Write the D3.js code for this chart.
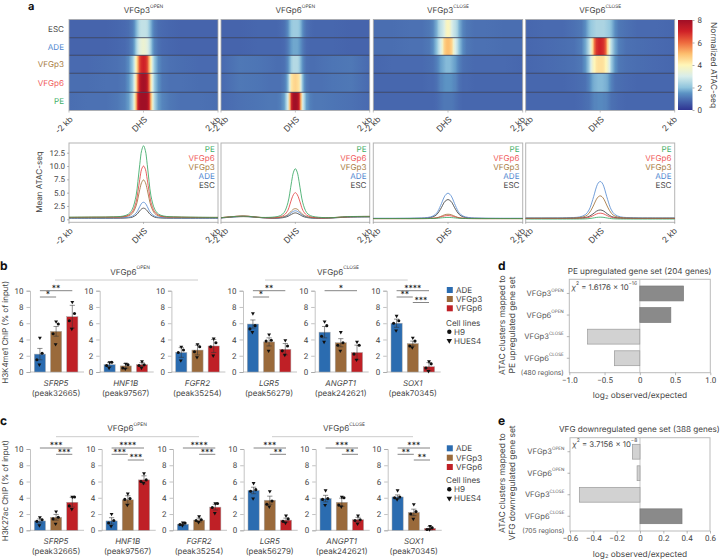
<!DOCTYPE html>
<html><head><meta charset="utf-8">
<script src="https://cdn.jsdelivr.net/npm/d3@7"></script>
<style>
html,body{margin:0;padding:0;background:#fff}
svg{display:block}
text{font-family:Inter,"Noto Sans",sans-serif;fill:#444;text-rendering:geometricPrecision}
.tick text{font-family:Roboto,sans-serif}
</style></head><body><svg id="c" width="721" height="560"></svg>
<script>
// ---------- categories ----------
const samples = ["ESC","ADE","VFGp3","VFGp6","PE"];
const sampleColors = ["#4a4a4a","#4f86cf","#a87c42","#ef5a5a","#3fae68"];
const clusterNames = ["VFGp3","VFGp6","VFGp3","VFGp6"];
const clusterSups = ["OPEN","OPEN","CLOSE","CLOSE"];
const groups = ["ADE","VFGp3","VFGp6"];
const groupColors = ["#2b6cb0","#9a6a3b","#bf2026"];
const genes = ["SFRP5","HNF1B","FGFR2","LGR5","ANGPT1","SOX1"];
const peaks = ["(peak32665)","(peak97567)","(peak35254)","(peak56279)","(peak242621)","(peak70345)"];

// ---------- panel a heat map: ATAC signal by distance from DHS centre (kb) ----------
const heatKb = [0,.05,.1,.15,.2,.25,.3,.4,.5,.7,1,1.5,2];
const heatP1 = [
 [2.7,2.7,2.6,2.2,1.8,1.4,1.15,.95,.9,.85,.8,.8,.8],
 [3.5,3.4,3.2,2.8,2.2,1.6,1.25,1,.9,.85,.8,.8,.8],
 [7,6.9,6.5,5.2,4,2.8,2,1.4,1.1,1,.95,.9,.9],
 [7.9,7.8,7.4,6,4.2,3,2.1,1.5,1.1,1,1,.95,.95],
 [8,8,7.9,7,5,3.4,2.4,1.6,1.3,1.1,1,1,.95]];
const heatP2 = [
 [2.2,2.2,2.1,1.8,1.4,1.15,1,.9,.85,.85,.85,.8,.8],
 [1.7,1.7,1.6,1.4,1.15,1,.9,.85,.85,.85,.85,.8,.8],
 [2.5,2.5,2.3,1.8,1.4,1.15,1,.95,.95,1,1.05,1.1,.9],
 [4.6,4.5,4.3,3.1,1.9,1.4,1.15,1,1,1,1.05,1.1,.9],
 [8,7.9,7.2,5,3,2.2,1.6,1.2,1.1,1.1,1.05,1,.9]];
const heatP3 = [
 [3.9,3.7,3.1,2.8,2.6,2.3,1.8,1.3,1.1,1,1,.95,.95],
 [5,4.9,4.6,3.6,3,2.6,2,1.4,1.1,1,1,.95,.95],
 [1.9,1.9,1.8,1.7,1.6,1.4,1.2,1,.95,.9,.9,.9,.85],
 [1.5,1.5,1.45,1.35,1.3,1.15,1,.9,.9,.85,.85,.85,.85],
 [1.1,1.1,1.1,1.05,1,.95,.9,.85,.85,.85,.85,.85,.85]];
const heatP4 = [
 [2.4,2.4,2.4,2.3,2.2,2.1,1.9,1.4,1.1,1,.9,.9,.85],
 [7,6.9,6.7,6,4.5,3.4,2.6,1.7,1.2,1,.95,.9,.85],
 [4.4,4.4,4.3,4,3.6,3,2.2,1.5,1.1,1,.95,.9,.85],
 [1.9,1.9,1.85,1.8,1.7,1.5,1.25,1,.95,.9,.85,.85,.85],
 [1.35,1.35,1.3,1.3,1.2,1.1,1,.95,.9,.85,.85,.85,.85]];
const heatAll = [heatP1,heatP2,heatP3,heatP4];
const colorTicks = [0,2,4,6,8];
const colorStops = [0,.85,1.5,2,3,4,5,6,7,8];
const colorRamp = ["#2f3492","#4767ae","#5c93c4","#8fc4dd","#d8edea","#fff6b8","#fdbe6e","#ee6a3e","#cf2027","#a00f26"];

// ---------- panel a mean profiles ----------
const lineKb = [-2,-1.4,-.9,-.55,-.4,-.3,-.2,-.15,-.1,-.05,0,.05,.1,.15,.2,.3,.4,.55,.9,1.4,2];
const lineP1 = [
 [.2,.2,.2,.22,.28,.4,.8,1.15,1.6,1.95,2.1,1.95,1.6,1.15,.8,.4,.28,.22,.2,.2,.2],
 [.25,.25,.25,.3,.4,.6,1.15,1.7,2.4,3,3.2,3,2.4,1.7,1.15,.6,.4,.3,.25,.25,.25],
 [.35,.38,.4,.45,.65,1.1,2.5,3.9,5.6,6.9,7.4,6.9,5.6,3.9,2.5,1.1,.65,.45,.4,.35,.35],
 [.35,.38,.4,.5,.8,1.4,3.2,5.2,7.5,9.4,10,9.4,7.5,5.2,3.2,1.4,.8,.5,.4,.35,.35],
 [.4,.42,.45,.6,1,1.9,4.4,7.1,10.3,12.9,13.8,12.9,10.3,7.1,4.4,1.9,1,.6,.45,.4,.35]];
const lineP2 = [
 [.25,.5,.3,.2,.25,.35,.55,.75,.95,1.12,1.2,1.12,.95,.75,.55,.35,.25,.2,.22,.4,.45],
 [.25,.55,.3,.2,.3,.45,.75,1,1.3,1.5,1.6,1.5,1.3,1,.75,.45,.3,.2,.25,.42,.48],
 [.3,.6,.32,.25,.35,.5,.9,1.25,1.6,1.9,2,1.9,1.6,1.25,.9,.5,.35,.25,.27,.45,.5],
 [.3,.62,.33,.3,.5,.8,1.7,2.7,3.8,4.65,5,4.65,3.8,2.7,1.7,.8,.5,.3,.28,.48,.55],
 [.3,.6,.35,.45,.7,1.3,3.1,4.9,7.1,8.85,9.5,8.85,7.1,4.9,3.1,1.3,.7,.45,.3,.5,.55]];
const lineP3 = [
 [.15,.15,.18,.25,.47,.9,1.9,2.55,3.2,3.55,3.7,3.55,3.2,2.55,1.9,.9,.47,.25,.18,.15,.15],
 [.2,.2,.22,.34,.62,1.2,2.55,3.4,4.2,4.7,4.9,4.7,4.2,3.4,2.55,1.2,.62,.34,.22,.2,.2],
 [.1,.1,.1,.13,.18,.29,.52,.68,.82,.92,.95,.92,.82,.68,.52,.29,.18,.13,.1,.1,.1],
 [.15,.15,.15,.17,.2,.27,.42,.52,.62,.68,.7,.68,.62,.52,.42,.27,.2,.17,.15,.15,.15],
 [.15,.15,.15,.15,.17,.19,.25,.29,.32,.34,.35,.34,.32,.29,.25,.19,.17,.15,.15,.15,.15]];
const lineP4 = [
 [.2,.2,.2,.25,.34,.54,.98,1.25,1.52,1.69,1.75,1.69,1.52,1.25,.98,.54,.34,.25,.2,.2,.2],
 [.25,.25,.3,.45,.87,1.75,3.7,4.9,6.1,6.85,7.1,6.85,6.1,4.9,3.7,1.75,.87,.45,.3,.25,.25],
 [.2,.2,.22,.33,.58,1.12,2.3,3.05,3.77,4.23,4.4,4.23,3.77,3.05,2.3,1.12,.58,.33,.22,.2,.2],
 [.15,.15,.15,.18,.24,.37,.65,.83,1,1.11,1.15,1.11,1,.83,.65,.37,.24,.18,.15,.15,.15],
 [.05,.05,.05,.06,.08,.13,.23,.29,.35,.39,.4,.39,.35,.29,.23,.13,.08,.06,.05,.05,.05]];
const lineAll = [lineP1,lineP2,lineP3,lineP4];
const lineTicks = [0,2.5,5,7.5,10,12.5];

// ---------- panels b, c: bars (ADE, VFGp3, VFGp6 per gene) ----------
const bMeans = [[2.2,5,6.8],[.9,.75,.9],[2.4,2.7,3.2],[5.9,3.7,2.8],[4.9,3.6,2.4],[6,3.5,.65]];
const bErrs  = [[.7,.6,1.4],[.25,.3,.25],[.6,.6,.8],[.5,.5,.7],[.7,.5,.9],[.5,.3,.5]];
const bPoints = [
 [[4.2,2.3,1.5,.9],[6.2,5.9,4.7,3.4],[8.6,7.2,6.3,5.3]],
 [[1.2,1.2,.8,.5],[1,.9,.5,.4],[1.3,.9,.8,.5]],
 [[3.1,2.7,2.4,1.4],[3.4,3.1,2.5,1.8],[4.1,3.6,3.1,2]],
 [[7.2,5.7,5.3,4.9],[4.6,3.9,3.8,2.6],[3.9,3.2,2.6,2.1]],
 [[6.2,5.7,4.4,3.7],[4.9,3.6,3.3,2.6],[3.7,3.3,2.2,1.5]],
 [[6.9,6.3,6,5.1],[4.2,3.8,3.2,3],[1.3,1,.5,.1]]];
const bSig = [
 [[0,2,0,"**"],[0,1,1,"*"]],[],[],
 [[0,2,0,"**"],[0,1,1,"*"]],
 [[0,2,0,"*"]],
 [[0,2,0,"****"],[0,1,1,"**"],[1,2,2,"***"]]];
const cMeans = [[1.15,1.6,3.45],[1.15,3.75,6.2],[.75,1.25,2.85],[4.9,3.7,1.25],[3.9,3.45,1.3],[4.1,2.2,.25]];
const cErrs  = [[.25,.35,.6],[.4,.5,.5],[.1,.25,.35],[.4,.5,.25],[.4,.5,.3],[.25,.4,.2]];
const cPoints = [
 [[1.6,1.3,1.1,.6],[2.3,1.6,1.4,.8],[4.1,4.1,3,2.6]],
 [[2,1.2,.9,.5],[4.5,3.9,3.8,3.1],[7,6.2,6,5.8]],
 [[.95,.9,.7,.6],[1.7,1.3,1.2,1],[3.3,3.3,2.8,2.1]],
 [[5.8,5,4.8,3.9],[4.8,3.6,3.2,2.9],[1.8,1.4,1.1,.9]],
 [[4.9,3.9,3.8,3.1],[4.1,4,3.1,2.9],[1.8,1.3,1.2,.8]],
 [[4.9,4.1,4,3.8],[3.2,2.3,2,1.4],[.5,.3,.1,.1]]];
const cSig = [
 [[0,2,0,"***"],[1,2,1,"***"]],
 [[0,2,0,"****"],[0,1,1,"***"],[1,2,2,"***"]],
 [[0,2,0,"****"],[1,2,1,"***"]],
 [[0,2,0,"***"],[1,2,1,"**"]],
 [[0,2,0,"***"],[1,2,1,"**"]],
 [[0,2,0,"***"],[0,1,1,"**"],[1,2,2,"**"]]];
const barTicks = [0,2,4,6,8,10];
const pointMarkers = ["triangle","circle","circle","triangle"];
const cellLines = ["H9","HUES4"];

// ---------- panels d, e ----------
const clusterLabels = ["VFGp3","VFGp6","VFGp3","VFGp6"];
const dValues = [.62,.44,-.74,-.36];
const eValues = [-.065,-.025,-.52,.36];
const dTicks = [-1,-.5,0,.5,1];
const eTicks = [-.6,-.4,-.2,0,.2,.4,.6];

// ========== drawing ==========
const svg = d3.select("#c");
const defs = svg.append("defs");
// font size that makes a string span a width
function fit(s,w){
  const t=svg.append("text").attr("font-size",10).text(s);
  const l=t.node().getComputedTextLength(); t.remove();
  return 10*w/l;
}
const labelFS = fit("VFGp6",26.3);
const peakFS = fit("(peak32665)",48.7);
const tickFS = 8;
const FS = 8.4;
function T(x,y,s,o={}){
  const t = svg.append("text").attr("x",x).attr("y",y).attr("font-size",o.fs||FS)
    .attr("text-anchor",o.a||"start").attr("dominant-baseline","central").text(s);
  if(o.c) t.style("fill",o.c);
  if(o.b) t.attr("font-weight",700);
  if(o.i) t.attr("font-style","italic");
  if(o.r!==undefined) t.attr("transform",`rotate(${o.r} ${x} ${y})`);
  return t;
}
function sup(x,y,a,b,o={}){
  const t = T(x,y,a,o);
  t.append("tspan").attr("font-size",(o.fs||FS)*.6).attr("dy",-(o.fs||FS)*.38).text(b);
  return t;
}
const panelX = [[69,218],[221,369.7],[373.3,522.7],[525.7,674.7]];
const rowY = [19.5,37.7,55.3,73.3,92.3,110.4];
const heatColor = d3.scaleLinear().domain(colorStops).range(colorRamp).interpolate(d3.interpolateRgb);

// panel letters
T(28,6,"a",{b:1,fs:11,c:"#111"});
T(0,265,"b",{b:1,fs:12,c:"#111"});
T(0,420.5,"c",{b:1,fs:12,c:"#111"});
T(498,265,"d",{b:1,fs:12,c:"#111"});
T(498,420.5,"e",{b:1,fs:12,c:"#111"});

// heat maps
heatAll.forEach((rows,p)=>{
  const x = d3.scaleLinear().domain([-2,2]).range(panelX[p]);
  const w = panelX[p][1]-panelX[p][0];
  sup(x(0),10,clusterNames[p],clusterSups[p],{a:"middle",fs:labelFS});
  rows.forEach((vals,r)=>{
    const id=`h${p}_${r}`;
    const stops = heatKb.map((k,i)=>({k:-k,v:vals[i]})).reverse().concat(heatKb.slice(1).map((k,i)=>({k:k,v:vals[i+1]})));
    defs.append("linearGradient").attr("id",id).selectAll("stop").data(stops).join("stop")
      .attr("offset",d=>(x(d.k)-panelX[p][0])/w).attr("stop-color",d=>heatColor(d.v));
    svg.append("rect").attr("x",panelX[p][0]).attr("y",rowY[r]).attr("width",w)
      .attr("height",rowY[r+1]-rowY[r]).attr("fill",`url(#${id})`);
  });
  rowY.slice(1,5).forEach(y=>svg.append("line").attr("x1",panelX[p][0]).attr("x2",panelX[p][1]).attr("y1",y).attr("y2",y).attr("stroke","#2b3350").attr("stroke-width",.8));
  svg.append("rect").attr("x",panelX[p][0]).attr("y",rowY[0]).attr("width",w).attr("height",rowY[5]-rowY[0]).attr("fill","none").attr("stroke","#aaa").attr("stroke-width",.8);
  xLabels(x,116.5,p);
});
function xLabels(x,y,p){
  [[-2,"-2 kb",p===0?3:6.5],[0,"DHS",3],[2,"2 kb",1.5]].forEach(([k,s,dx])=>{
    svg.append("line").attr("x1",x(k)).attr("x2",x(k)).attr("y1",y-6).attr("y2",y-4).attr("stroke","#999").attr("stroke-width",.6);
    T(x(k)+dx,y+2,s,{a:"end",r:-45,fs:8.4});
  });
}
samples.forEach((s,i)=>T(64,(rowY[i]+rowY[i+1])/2,s,{a:"end",c:sampleColors[i],fs:labelFS}));

// colour bar
const cbY = d3.scaleLinear().domain([0,8]).range([110,20]);
defs.append("linearGradient").attr("id","cb").attr("x1",0).attr("x2",0).attr("y1",1).attr("y2",0)
  .selectAll("stop").data(d3.range(0,8.01,.25)).join("stop").attr("offset",d=>d/8).attr("stop-color",d=>heatColor(d));
svg.append("rect").attr("x",678).attr("y",20).attr("width",14.5).attr("height",90).attr("fill","url(#cb)");
const cbAxis = svg.append("g").attr("transform","translate(692.5,0)").call(d3.axisRight(cbY).tickValues(colorTicks).tickSize(2).tickPadding(3));
cbAxis.select(".domain").remove();
cbAxis.selectAll("line").attr("stroke","#777").attr("stroke-width",.6);
cbAxis.selectAll("text").attr("font-size",tickFS);
T(714,65,"Normalized ATAC-seq",{a:"middle",r:90,fs:fit("Normalized ATAC-seq",86)});

// mean profile plots
const lineY = d3.scaleLinear().domain([0,12.5]).range([219.3,152.7]);
lineAll.forEach((curves,p)=>{
  const x = d3.scaleLinear().domain([-2,2]).range(panelX[p]);
  svg.append("rect").attr("x",panelX[p][0]).attr("y",143).attr("width",panelX[p][1]-panelX[p][0]).attr("height",79.3).attr("fill","none").attr("stroke","#b4b4b4").attr("stroke-width",1);
  const ln = d3.line().x((d,i)=>x(lineKb[i])).y(d=>lineY(d)).curve(d3.curveCatmullRom.alpha(.5));
  curves.forEach((c,i)=>svg.append("path").attr("d",ln(c)).attr("fill","none").attr("stroke",["#333","#4f86cf","#9a6a2f","#e23b3b","#2ea35c"][i]).attr("stroke-width",.8));
  [...samples].reverse().forEach((s,i)=>T(panelX[p][1]-3.2,148.7+i*9.1,s,{a:"end",c:sampleColors[4-i],fs:labelFS}));
  xLabels(x,228,p);
});
const ly = svg.append("g").attr("transform","translate(69,0)").call(d3.axisLeft(lineY).tickValues(lineTicks).tickSize(2).tickPadding(2).tickFormat(d=>d===0?"0":d3.format(".1f")(d)));
ly.select(".domain").remove();
ly.selectAll("line").attr("stroke","#888").attr("stroke-width",.6);
ly.selectAll("text").attr("font-size",tickFS);
T(39,182,"Mean ATAC-seq",{a:"middle",r:-90,fs:fit("Mean ATAC-seq",61.7)});

// bar panels
const axisXb = [30,99.7,171.4,243,314.7,386.7];
const axisXc = [30,101.7,173,243.7,315.7,387.7];
function barPanel(o){
  const y = d3.scaleLinear().domain([0,10]).range([o.y0,o.y10]);
  o.means.forEach((m,g)=>{
    const ax=o.axisX[g];
    const x = d3.scaleBand().domain(groups).range([ax+4.3,ax+4.3+43.6]).paddingInner(.31).paddingOuter(0);
    const gy = svg.append("g").attr("transform",`translate(${ax},0)`).call(d3.axisLeft(y).tickValues(barTicks).tickSize(3.5).tickPadding(3));
    gy.select(".domain").attr("stroke","#aaa").attr("stroke-width",.7);
    gy.selectAll("line").attr("stroke","#999").attr("stroke-width",.6);
    gy.selectAll("text").attr("font-size",tickFS);
    svg.append("line").attr("x1",ax).attr("x2",ax+54).attr("y1",o.y0).attr("y2",o.y0).attr("stroke","#aaa").attr("stroke-width",.7);
    groups.forEach((gr,i)=>{
      const cx=x(gr)+x.bandwidth()/2;
      svg.append("rect").attr("x",x(gr)).attr("width",x.bandwidth()).attr("y",y(m[i])).attr("height",y(0)-y(m[i]))
        .attr("fill",groupColors[i]).attr("stroke","#aaa").attr("stroke-width",.5);
      svg.append("line").attr("x1",cx).attr("x2",cx).attr("y1",y(m[i]+o.errs[g][i])).attr("y2",y(m[i]-o.errs[g][i])).attr("stroke","#333").attr("stroke-width",.55);
      [m[i]+o.errs[g][i],m[i]-o.errs[g][i]].forEach(v=>svg.append("line").attr("x1",cx-2.6).attr("x2",cx+2.6).attr("y1",y(v)).attr("y2",y(v)).attr("stroke","#333").attr("stroke-width",.55));
      const jit=[0,2.2,-3,-0.5];
      o.points[g][i].forEach((v,k)=>{
        const sym = d3.symbol().type(pointMarkers[k]==="circle"?d3.symbolCircle:d3.symbolTriangle).size(pointMarkers[k]==="circle"?7.5:6.5);
        const rot = pointMarkers[k]==="circle"?"":" rotate(180)";
        svg.append("path").attr("d",sym()).attr("transform",`translate(${cx+jit[k]},${y(v)})${rot}`).attr("fill","#111");
      });
    });
    o.sig[g].forEach(([a,b,l,s])=>{
      const c=d=>x(groups[d])+x.bandwidth()/2;
      const ly=o.sigY[l];
      svg.append("line").attr("x1",c(a)).attr("x2",c(b)).attr("y1",ly).attr("y2",ly).attr("stroke","#666").attr("stroke-width",.8);
      T((c(a)+c(b))/2,ly-1.8,s,{a:"middle",fs:8.6,c:"#222"});
    });
    T(ax+26,o.geneY,genes[g],{a:"middle",i:1,fs:peakFS});
    T(ax+26,o.geneY+10,peaks[g],{a:"middle",fs:peakFS});
  });
  T(o.ytx,(o.y0+o.y10)/2+1,o.ylab,{a:"middle",r:-90,fs:fit("H3K4me1 ChIP (% of input)",103)});
  o.head.forEach(h=>{
    sup(h.tx,o.headY,"VFGp6",h.s,{a:"middle",fs:labelFS});
    svg.append("line").attr("x1",h.x1).attr("x2",h.x2).attr("y1",o.lineY).attr("y2",o.lineY).attr("stroke","#ccc").attr("stroke-width",1);
  });
  groups.forEach((gr,i)=>{
    svg.append("rect").attr("x",446.8).attr("y",o.legY[i]-3).attr("width",6).attr("height",6).attr("fill",groupColors[i]);
    T(456,o.legY[i],gr,{fs:labelFS});
  });
  T(446,o.legY[3],"Cell lines",{fs:labelFS});
  cellLines.forEach((c,i)=>{
    const s=d3.symbol().type(i?d3.symbolTriangle:d3.symbolCircle).size(i?13:15);
    svg.append("path").attr("d",s()).attr("transform",`translate(449.3,${o.legY[4+i]})${i?" rotate(180)":""}`).attr("fill","#111");
    T(454,o.legY[4+i],c,{fs:labelFS});
  });
}
barPanel({y0:372,y10:290.7,axisX:axisXb,means:bMeans,errs:bErrs,points:bPoints,sig:bSig,sigY:[290.7,297,302.5],geneY:382.7,ytx:5,ylab:"H3K4me1 ChIP (% of input)",
  headY:271.5,lineY:280,head:[{tx:130,s:"OPEN",x1:55,x2:198},{tx:338,s:"CLOSE",x1:265,x2:407.7}],legY:[290,299,308.3,322.7,331.7,340.7]});
barPanel({y0:530.3,y10:449,axisX:axisXc,means:cMeans,errs:cErrs,points:cPoints,sig:cSig,sigY:[448,454.3,460],geneY:541,ytx:5,ylab:"H3K27ac ChIP (% of input)",
  headY:428,lineY:436.7,head:[{tx:127,s:"OPEN",x1:56,x2:199},{tx:344,s:"CLOSE",x1:272,x2:413}],legY:[448.3,457.7,467,480.3,489.3,498.3]});

// log2 enrichment panels
function enrich(o){
  const x = d3.scaleLinear().domain(o.dom).range([o.x1,o.x2]);
  const y = d3.scaleBand().domain(d3.range(4)).range(o.yr).paddingInner(.31);
  svg.append("rect").attr("x",o.x1).attr("y",o.y1).attr("width",o.x2-o.x1).attr("height",o.y2-o.y1).attr("fill","none").attr("stroke","#bbb").attr("stroke-width",1);
  svg.append("line").attr("x1",x(0)).attr("x2",x(0)).attr("y1",o.y1).attr("y2",o.y2).attr("stroke","#bbb").attr("stroke-width",.8);
  o.vals.forEach((v,i)=>{
    svg.append("rect").attr("x",x(Math.min(0,v))).attr("width",Math.abs(x(v)-x(0))).attr("y",y(i)).attr("height",y.bandwidth())
      .attr("fill",v>0?"#8a8a8a":"#d2d2d2").attr("stroke",v>0?"#7a7a7a":"#9a9a9a").attr("stroke-width",.7);
    sup(o.x1-5.5,y(i)+y.bandwidth()/2,clusterLabels[i],clusterSups[i],{a:"end",fs:7.6,c:"#555"});
    svg.append("line").attr("x1",o.x1-2.5).attr("x2",o.x1).attr("y1",y(i)+y.bandwidth()/2).attr("y2",y(i)+y.bandwidth()/2).attr("stroke","#888").attr("stroke-width",.6);
  });
  const ax = svg.append("g").attr("transform",`translate(0,${o.y2})`).call(d3.axisBottom(x).tickValues(o.ticks).tickSize(2.5).tickPadding(2).tickFormat(d=>d===0?"0":d3.format(".1f")(d).replace("-","\u2212")));
  ax.select(".domain").remove();
  ax.selectAll("line").attr("stroke","#888").attr("stroke-width",.6);
  ax.selectAll("text").attr("font-size",tickFS);
  T(o.x1-5.5,o.y2,o.reg,{a:"end",fs:fit("(480 regions)",43),c:"#555"});
  T(o.tx,o.ty,o.title,{fs:fit(o.title,o.tw)});
  const t=T(640,o.y2+23.5,"log",{a:"middle",fs:fit("log observed/expected",91)});
  t.append("tspan").attr("font-size",5.6).attr("dy",2).text("2");
  t.append("tspan").attr("dy",-2).text(" observed/expected");
  T(503,o.yc,"ATAC clusters mapped to",{a:"middle",r:-90,fs:fit("ATAC clusters mapped to",100)});
  T(512.5,o.yc,o.yl,{a:"middle",r:-90,fs:fit("ATAC clusters mapped to",100)});
  const c=T(o.x1+2.2,o.cy,"",{fs:7.8});
  c.append("tspan").attr("font-style","italic").text("\u03C7");
  c.append("tspan").attr("font-size",5).attr("dy",-3).text("2");
  c.append("tspan").attr("dy",3).text(" = "+o.chi+" \u00D7 10");
  c.append("tspan").attr("font-size",5).attr("dy",-3).text(o.exp);
}
enrich({dom:[-1,1],x1:569.3,x2:710.3,y1:279.3,y2:372.7,yr:[286,365.7],vals:dValues,ticks:dTicks,reg:"(480 regions)",title:"PE upregulated gene set (204 genes)",tx:567.7,tw:144,ty:270.7,yc:325,yl:"PE upregulated gene set",chi:"1.6176",exp:"\u221216",cy:286.7});
enrich({dom:[-.6,.6],x1:570,x2:710,y1:437.7,y2:531,yr:[444.3,523.7],vals:eValues,ticks:eTicks,reg:"(705 regions)",title:"VFG downregulated gene set (388 genes)",tx:559,tw:161,ty:429,yc:483,yl:"VFG downregulated gene set",chi:"3.7156",exp:"\u22128",cy:444});
</script></body></html>
